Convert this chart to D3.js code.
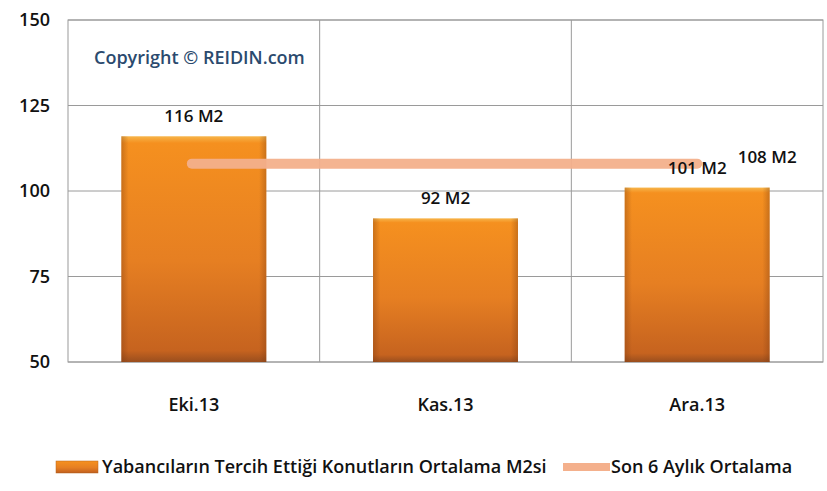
<!DOCTYPE html>
<html>
<head>
<meta charset="utf-8">
<script src="https://cdn.jsdelivr.net/npm/d3@7"></script>
<style>
  body { margin: 0; background: #fff; }
  svg { font-family: "Open Sans", Lato, sans-serif; }
</style>
</head>
<body>
<svg width="827" height="491"></svg>
<script>
const categories = ["Eki.13", "Kas.13", "Ara.13"];
const barValues = [116, 92, 101];
const avgValue = 108;
const yTicks = [50, 75, 100, 125, 150];
const barName = "Yabancıların Tercih Ettiği Konutların Ortalama M2si";
const lineName = "Son 6 Aylık Ortalama";

const svg = d3.select("svg");
const margin = { top: 20, right: 4, bottom: 129, left: 68 };
const width = +svg.attr("width");
const height = +svg.attr("height");
const innerWidth = width - margin.left - margin.right;
const innerHeight = height - margin.top - margin.bottom;
const font = "'Open Sans', Lato, sans-serif";

const defs = svg.append("defs");
const grad = defs.append("linearGradient").attr("id", "barGrad")
  .attr("x1", 0).attr("y1", 0).attr("x2", 0).attr("y2", 1);
grad.append("stop").attr("offset", "0%").attr("stop-color", "#f7b54a");
grad.append("stop").attr("offset", "3%").attr("stop-color", "#f5901f");
grad.append("stop").attr("offset", "55%").attr("stop-color", "#e67f22");
grad.append("stop").attr("offset", "95%").attr("stop-color", "#c6631f");
grad.append("stop").attr("offset", "100%").attr("stop-color", "#9a4e1e");
const side = defs.append("linearGradient").attr("id", "sideGrad")
  .attr("x1", 0).attr("y1", 0).attr("x2", 1).attr("y2", 0);
side.append("stop").attr("offset", "0%").attr("stop-color", "#7a3a10").attr("stop-opacity", 0.35);
side.append("stop").attr("offset", "5%").attr("stop-color", "#7a3a10").attr("stop-opacity", 0);
side.append("stop").attr("offset", "95%").attr("stop-color", "#7a3a10").attr("stop-opacity", 0);
side.append("stop").attr("offset", "100%").attr("stop-color", "#7a3a10").attr("stop-opacity", 0.35);

const g = svg.append("g").attr("transform", `translate(${margin.left},${margin.top})`);

const xGrid = d3.scaleBand().domain(categories).range([0, innerWidth]).padding(0);
const xScale = d3.scaleBand().domain(categories).range([0, innerWidth])
  .paddingInner(0.424).paddingOuter(0.212);
const yScale = d3.scaleLinear().domain([50, 150]).range([innerHeight, 0]);

// horizontal gridlines
g.selectAll(".hgrid").data(yTicks).enter().append("line")
  .attr("x1", 0).attr("x2", innerWidth)
  .attr("y1", (d) => yScale(d)).attr("y2", (d) => yScale(d))
  .attr("stroke", "#9a9a9a").attr("stroke-width", 1);

// vertical gridlines
g.selectAll(".vgrid").data(categories.slice(1)).enter().append("line")
  .attr("x1", (d) => xGrid(d)).attr("x2", (d) => xGrid(d))
  .attr("y1", 0).attr("y2", innerHeight)
  .attr("stroke", "#9a9a9a").attr("stroke-width", 1);

g.append("rect").attr("width", innerWidth).attr("height", innerHeight)
  .attr("fill", "none").attr("stroke", "#9a9a9a");

g.append("text").attr("x", 26).attr("y", 44)
  .attr("fill", "#2b4a6e").attr("font-size", 18).attr("font-weight", 600)
  .text("Copyright © REIDIN.com");

// y axis
const yAxis = d3.axisLeft(yScale).tickValues(yTicks).tickSize(0).tickPadding(18);
const yAxisG = g.append("g").call(yAxis);
yAxisG.select(".domain").remove();
yAxisG.selectAll("text").attr("font-size", 18).attr("font-weight", 600)
  .attr("fill", "#111").attr("font-family", font);

// x axis
const xAxis = d3.axisBottom(xGrid).tickSize(0).tickPadding(36);
const xAxisG = g.append("g").attr("transform", `translate(0,${innerHeight})`).call(xAxis);
xAxisG.select(".domain").remove();
xAxisG.selectAll("text").attr("font-size", 18).attr("font-weight", 600)
  .attr("fill", "#111").attr("font-family", font);

// bars
const bars = g.selectAll(".bar").data(barValues).enter().append("g");
bars.append("rect")
  .attr("x", (d, i) => xScale(categories[i]))
  .attr("y", (d) => yScale(d))
  .attr("width", xScale.bandwidth())
  .attr("height", (d) => innerHeight - yScale(d))
  .attr("fill", "url(#barGrad)");
bars.append("rect")
  .attr("x", (d, i) => xScale(categories[i]))
  .attr("y", (d) => yScale(d))
  .attr("width", xScale.bandwidth())
  .attr("height", (d) => innerHeight - yScale(d))
  .attr("fill", "url(#sideGrad)");

// average line
const cx = (c) => xGrid(c) + xGrid.bandwidth() / 2;
g.append("line")
  .attr("x1", cx(categories[0]) - 2).attr("x2", cx(categories[2]))
  .attr("y1", yScale(avgValue)).attr("y2", yScale(avgValue))
  .attr("stroke", "#f4b08c").attr("stroke-width", 10).attr("stroke-linecap", "round")
  .attr("opacity", 0.95);

// bar labels
g.selectAll(".blabel").data(barValues).enter().append("text")
  .attr("x", (d, i) => cx(categories[i]))
  .attr("y", (d) => yScale(d) - 14)
  .attr("text-anchor", "middle").attr("font-size", 17).attr("font-weight", 600)
  .attr("fill", "#111")
  .text((d) => `${d} M2`);

g.append("text")
  .attr("x", cx(categories[2]) + 70)
  .attr("y", yScale(avgValue) - 1)
  .attr("text-anchor", "middle").attr("font-size", 17).attr("font-weight", 600)
  .attr("fill", "#111")
  .text(`${avgValue} M2`);

// legend
const leg = svg.append("g").attr("transform", "translate(0,467)");
leg.append("rect").attr("x", 56).attr("y", -6).attr("width", 42).attr("height", 12)
  .attr("fill", "url(#barGrad)").attr("stroke", "#b8651e").attr("stroke-width", 0.5);
leg.append("text").attr("x", 102).attr("y", 6).attr("font-size", 18).attr("font-weight", 600)
  .attr("fill", "#111").text(barName);
leg.append("line").attr("x1", 563).attr("x2", 610).attr("y1", 0).attr("y2", 0)
  .attr("stroke", "#f4b08c").attr("stroke-width", 8);
leg.append("text").attr("x", 611).attr("y", 6).attr("font-size", 18).attr("font-weight", 600)
  .attr("fill", "#111").text(lineName);
</script>
</body>
</html>
